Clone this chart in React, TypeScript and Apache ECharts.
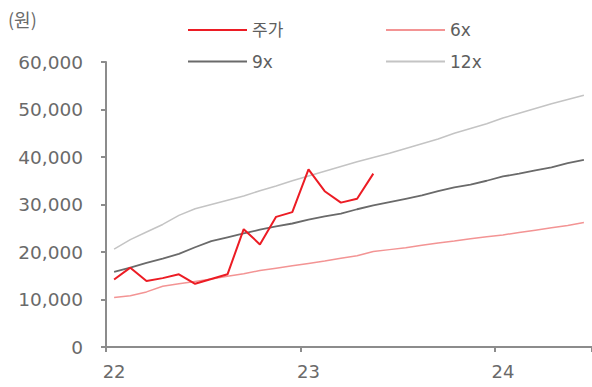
import React, { useEffect, useRef } from "react";
import * as echarts from "echarts";

// Monthly points, Jan 2022 – Jun 2024
const months = [
  "22.01", "22.02", "22.03", "22.04", "22.05", "22.06", "22.07", "22.08", "22.09", "22.10", "22.11", "22.12",
  "23.01", "23.02", "23.03", "23.04", "23.05", "23.06", "23.07", "23.08", "23.09", "23.10", "23.11", "23.12",
  "24.01", "24.02", "24.03", "24.04", "24.05", "24.06",
];

// Share price (원)
const price = [
  14200, 16700, 13900, 14500, 15300, 13300, 14300, 15300, 24800, 21600, 27400, 28400,
  37400, 32800, 30400, 31200, 36500,
];

// PER band lines (원)
const band6x = [
  10400, 10800, 11600, 12800, 13300, 13800, 14300, 14900, 15400, 16100, 16600, 17100,
  17600, 18100, 18700, 19200, 20100, 20500, 20900, 21400, 21900, 22300, 22800, 23200,
  23600, 24100, 24600, 25100, 25600, 26200,
];
const band9x = [
  15800, 16700, 17700, 18600, 19600, 21000, 22300, 23100, 23900, 24700, 25400, 26000,
  26800, 27500, 28100, 29000, 29800, 30500, 31200, 31900, 32800, 33600, 34200, 35000,
  35900, 36500, 37200, 37800, 38700, 39400,
];
const band12x = [
  20600, 22600, 24200, 25800, 27700, 29100, 30000, 30900, 31800, 32900, 33900, 35000,
  36000, 37000, 38000, 39000, 39900, 40800, 41800, 42800, 43800, 45000, 46000, 47000,
  48200, 49200, 50200, 51200, 52100, 53000,
];

const yMax = 60000;
const yStep = 10000;

const FONT = "DejaVu Sans";
const TEXT_COLOR = "#6a6a6a";
const AXIS_COLOR = "#8c8c8c";

export default function App() {
  const ref = useRef<HTMLDivElement>(null);

  useEffect(() => {
    if (!ref.current) return;
    const chart = echarts.init(ref.current, null, { renderer: "svg" });

    const legendText = {
      fontFamily: `${FONT}, "Noto Sans CJK KR"`,
      fontSize: 17,
      color: "#5e5e5e",
      lineHeight: 20,
    };

    const legendBase = {
      orient: "vertical",
      top: 15,
      itemWidth: 59,
      itemHeight: 2,
      itemGap: 11.5,
      icon: "rect",
      textStyle: legendText,
      selectedMode: false,
    };

    const line = (name: string, data: number[], color: string, width: number, z: number) => ({
      name,
      type: "line",
      data,
      symbol: "none",
      z,
      lineStyle: { color, width },
      itemStyle: { color },
    });

    chart.setOption({
      animation: false,
      backgroundColor: "#ffffff",
      grid: { left: 106, right: -2, top: 62, bottom: 40 },
      legend: [
        { ...legendBase, data: ["주가", "9x"], left: 183 },
        { ...legendBase, data: ["6x", "12x"], left: 381 },
      ],
      graphic: [
        {
          type: "text",
          left: 8,
          top: 10,
          style: {
            text: "(원)",
            fontFamily: `"Noto Sans CJK KR"`,
            fontSize: 18,
            fill: TEXT_COLOR,
          },
        },
      ],
      xAxis: {
        type: "category",
        data: months,
        boundaryGap: true,
        axisLine: { lineStyle: { color: AXIS_COLOR, width: 2 } },
        axisTick: {
          show: true,
          length: 5,
          interval: (i: number) => i % 12 === 0,
          lineStyle: { color: AXIS_COLOR, width: 2 },
        },
        axisLabel: {
          interval: (i: number) => i % 12 === 0,
          formatter: (v: string) => v.slice(0, 2),
          fontFamily: FONT,
          fontSize: 18,
          color: TEXT_COLOR,
          margin: 15,
        },
        splitLine: { show: false },
      },
      yAxis: {
        type: "value",
        min: 0,
        max: yMax,
        interval: yStep,
        axisLine: { show: true, lineStyle: { color: AXIS_COLOR, width: 2 } },
        axisTick: { show: true, length: 5, lineStyle: { color: AXIS_COLOR, width: 2 } },
        axisLabel: {
          formatter: (v: number) => v.toLocaleString("en-US"),
          fontFamily: FONT,
          fontSize: 18.5,
          color: TEXT_COLOR,
          margin: 23,
        },
        splitLine: { show: false },
      },
      series: [
        line("12x", band12x, "#c4c4c4", 1.5, 2),
        line("9x", band9x, "#6a6a6a", 1.8, 3),
        line("6x", band6x, "#f39494", 1.5, 4),
        line("주가", price, "#ec1c24", 2, 5),
      ],
    });

    return () => chart.dispose();
  }, []);

  return (
    <div
      ref={ref}
      style={{ position: "absolute", left: 0, top: 0, width: 592, height: 387 }}
    />
  );
}
